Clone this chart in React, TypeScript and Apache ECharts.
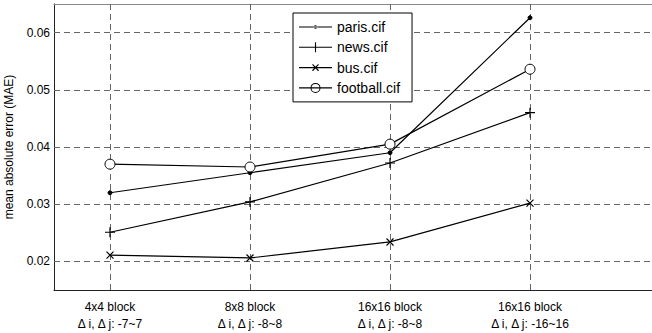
import React, { useEffect, useRef } from "react";
import * as echarts from "echarts";

const categories = [
  "4x4 block\nΔ i, Δ j: -7~7",
  "8x8 block\nΔ i, Δ j: -8~8",
  "16x16 block\nΔ i, Δ j: -8~8",
  "16x16 block\nΔ i, Δ j: -16~16",
];
const categoryPositions = [1, 2, 3, 4];
const paris = [0.032, 0.0355, 0.039, 0.0626];
const news = [0.0251, 0.0304, 0.0372, 0.046];
const bus = [0.0211, 0.0206, 0.0234, 0.0302];
const football = [0.037, 0.0365, 0.0405, 0.0536];
const yTicks = [0.02, 0.03, 0.04, 0.05, 0.06];

const FONT = "'Liberation Sans', Arial, Helvetica, sans-serif";

// legend icons: 33 x 10 box, filled shapes only
const BOX = "M0,0L0.01,0L0.01,0.01Z M0,10L0.01,10L0.01,9.99Z M33,0L32.99,0L32.99,0.01Z ";
const LINE = "M0,4.45L33,4.45L33,5.55L0,5.55Z ";
const ICON_PARIS =
  "path://" + BOX + LINE + "M14.7,5A1.8,1.8 0 1,0 18.3,5A1.8,1.8 0 1,0 14.7,5Z";
const ICON_NEWS = "path://" + BOX + LINE + "M15.95,0L17.05,0L17.05,10L15.95,10Z";
const ICON_BUS =
  "path://" + BOX + LINE +
  "M13.3,1.7L14.1,1.7L19.7,7.5L19.7,8.3L18.9,8.3L13.3,2.5Z M19.7,1.7L19.7,2.5L14.1,8.3L13.3,8.3L13.3,7.5L18.9,1.7Z";
const ICON_FOOTBALL =
  "path://" + BOX + LINE +
  "M11.5,5A5,5 0 1,1 21.5,5A5,5 0 1,1 11.5,5Z M12.5,5A4,4 0 1,0 20.5,5A4,4 0 1,0 12.5,5Z";

export default function App() {
  const ref = useRef<HTMLDivElement>(null);
  useEffect(() => {
    if (!ref.current) return;
    const chart = echarts.init(ref.current, undefined, { renderer: "svg" });
    const toPts = (arr: number[]) => arr.map((v, i) => [categoryPositions[i], v]);
    const base = {
      type: "line",
      lineStyle: { color: "#000", width: 1.2 },
      itemStyle: { color: "#000", borderColor: "#000", borderWidth: 1 },
    };
    chart.setOption({
      animation: false,
      backgroundColor: "#fff",
      textStyle: { fontFamily: FONT },
      grid: { left: 54, top: 4, right: -2, bottom: 43, show: false, containLabel: false, outerBoundsMode: "none" },
      legend: {
        left: 293, top: 13, z: 20, orient: "vertical",
        backgroundColor: "#fff", borderColor: "#000", borderWidth: 1,
        padding: [6, 12, 6, 6], itemWidth: 33, itemHeight: 10, itemGap: 4.3,
        itemStyle: { color: "#000", borderWidth: 0 },
        textStyle: { fontFamily: FONT, fontSize: 14, lineHeight: 16, color: "#000" },
        data: [
          { name: "paris.cif", icon: ICON_PARIS },
          { name: "news.cif", icon: ICON_NEWS },
          { name: "bus.cif", icon: ICON_BUS },
          { name: "football.cif", icon: ICON_FOOTBALL },
        ],
      },
      xAxis: [
        {
          type: "value", min: 0.6, max: 4.8857,
          splitLine: { show: false },
          axisLine: { show: true, lineStyle: { color: "#222" } },
          axisTick: { show: true, inside: true, length: 5, customValues: categoryPositions, lineStyle: { color: "#222" } },
          axisLabel: {
            customValues: categoryPositions,
            formatter: (v: number) => categories[Math.round(v) - 1] ?? "",
            fontFamily: FONT, fontSize: 12, color: "#000", lineHeight: 17, margin: 8,
          },
        },
        {
          type: "value", position: "top", min: 0.6, max: 4.8857,
          splitLine: { show: false },
          axisLine: { show: true, lineStyle: { color: "#888" } },
          axisTick: { show: false }, axisLabel: { show: false },
        },
      ],
      yAxis: {
        type: "value", min: 0.015, max: 0.065,
        name: "mean absolute error (MAE)", nameLocation: "middle", nameGap: 39,
        nameTextStyle: { fontFamily: FONT, fontSize: 12, color: "#000" },
        splitLine: { show: false },
        axisLine: { show: true, lineStyle: { color: "#222" } },
        axisTick: { show: true, inside: true, length: 5, customValues: yTicks, lineStyle: { color: "#222" } },
        axisLabel: {
          customValues: yTicks, formatter: (v: number) => v.toFixed(2),
          fontFamily: FONT, fontSize: 12, color: "#000", margin: 4,
        },
      },
      series: [
        {
          ...base, name: "paris.cif", data: toPts(paris), symbol: "circle", symbolSize: 4, z: 3,
          markLine: {
            silent: true, symbol: ["none", "none"], label: { show: false },
            lineStyle: { type: [6, 4], color: "#666", width: 1 }, z: 1,
            data: [...categoryPositions.map((x) => ({ xAxis: x })), ...yTicks.map((y) => ({ yAxis: y }))],
          },
        },
        {
          ...base, name: "news.cif", data: toPts(news), symbol: "path://M0,5L10,5M5,0L5,10", symbolSize: 10,
          itemStyle: { color: "none", borderColor: "#000", borderWidth: 1.2 }, z: 3,
        },
        {
          ...base, name: "bus.cif", data: toPts(bus), symbol: "path://M0,0L10,10M10,0L0,10", symbolSize: 7,
          itemStyle: { color: "none", borderColor: "#000", borderWidth: 1.2 }, z: 3,
        },
        {
          ...base, name: "football.cif", data: toPts(football), symbol: "circle", symbolSize: 10,
          itemStyle: { color: "#fff", borderColor: "#000", borderWidth: 1 }, z: 3,
        },
      ],
    });
    return () => chart.dispose();
  }, []);
  return <div ref={ref} style={{ position: "fixed", left: 0, top: 0, width: 652, height: 333 }} />;
}
